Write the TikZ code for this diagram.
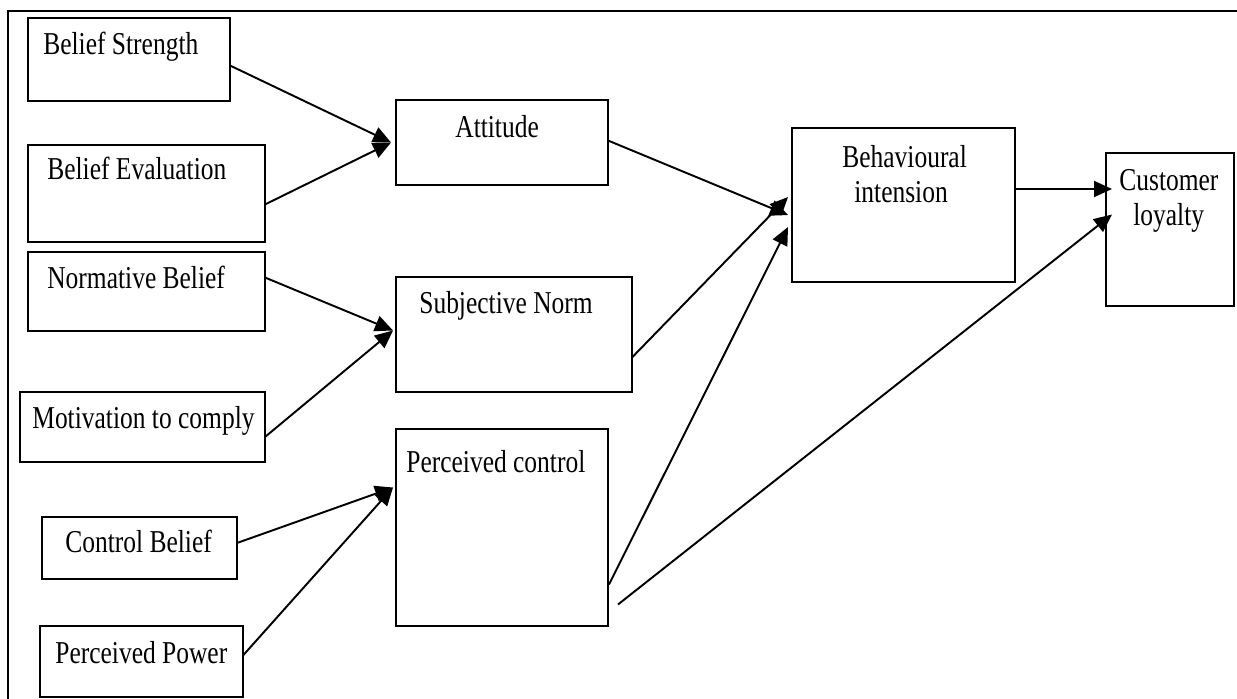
\documentclass[tikz,border=0pt]{standalone}
\usepackage{fontspec}
\setmainfont{Liberation Serif}
\usepackage{tikz}
\usetikzlibrary{calc}
\usetikzlibrary{arrows.meta}

\newcommand{\tallword}[1]{\scalebox{1}[1.25]{#1}}

\begin{document}
\begin{tikzpicture}[x=0.02cm, y=-0.02cm]
		\tikzstyle{box} = [rectangle, draw, line width=1.3pt, inner sep=0pt, outer sep=0pt]
		\tikzstyle{txt} = [anchor=base west, inner sep=0pt, font=\fontsize{14.5}{17}\selectfont]
		\tikzstyle{link} = [line width=1.1pt, -{Triangle[length=3.6mm, width=3.2mm]}]
		
		\useasboundingbox (0,0) rectangle (1237,699);
		\draw [line width=1.2pt] (8,699) -- (8,11) -- (1237,11);
		
		\node [box, minimum width=4.04cm, minimum height=1.66cm] (BS) at (129,59.5) {};
		\node [box, minimum width=4.74cm, minimum height=1.94cm] (BE) at (146.5,193.5) {};
		\node [box, minimum width=4.74cm, minimum height=1.58cm] (NB) at (146.5,291.5) {};
		\node [box, minimum width=4.9cm, minimum height=1.4cm] (MC) at (142.5,427) {};
		\node [box, minimum width=3.9cm, minimum height=1.24cm] (CB) at (139.5,548) {};
		\node [box, minimum width=4.06cm, minimum height=1.42cm] (PP) at (141.5,661.5) {};
		
		\node [box, minimum width=4.24cm, minimum height=1.7cm] (AT) at (502,142.5) {};
		\node [box, minimum width=4.72cm, minimum height=2.3cm] (SN) at (514,334.5) {};
		\node [box, minimum width=4.24cm, minimum height=3.94cm] (PC) at (502,527.5) {};
		
		\node [box, minimum width=4.46cm, minimum height=3.08cm] (BI) at (903.5,205) {};
		\node [box, minimum width=2.56cm, minimum height=3.06cm] (CL) at (1170,229.5) {};
		
		\node [txt] (BSt) at (43,55) {\tallword{Belief Strength}};
		\node [txt] (BEt) at (47,180) {\tallword{Belief Evaluation}};
		\node [txt] (NBt) at (47,288) {\tallword{Normative Belief}};
		\node [txt] (MCt) at (32,428) {\tallword{Motivation to comply}};
		\node [txt] (CBt) at (65,552) {\tallword{Control Belief}};
		\node [txt] (PPt) at (55,663) {\tallword{Perceived Power}};
		\node [txt] (ATt) at (455,138) {\tallword{Attitude}};
		\node [txt] (SNt) at (419,313) {\tallword{Subjective Norm}};
		\node [txt] (PCt) at (406,472) {\tallword{Perceived control}};
		\node [txt] (BIt1) at (842,168) {\tallword{Behavioural}};
		\node [txt] (BIt2) at (854,203) {\tallword{intension}};
		\node [txt] (CLt1) at (1119,191) {\tallword{Customer}};
		\node [txt] (CLt2) at (1133,226) {\tallword{loyalty}};
		
		\draw [link] ($(BS.east)+(0,6)$) to ($(AT.west)+(-5,0)$);
		\draw [link] ($(BE.east)+(0,11)$) to ($(AT.west)+(-5,0)$);
		\draw [link] ($(NB.east)+(0,-14)$) to ($(SN.west)+(-3,-4)$);
		\draw [link] ($(MC.east)+(0,10)$) to ($(SN.west)+(-3,-4)$);
		\draw [link] ($(CB.east)+(0,-5)$) to ($(PC.west)+(-3,-40)$);
		\draw [link] ($(PP.east)+(0,-6)$) to ($(PC.west)+(-3,-40)$);
		
		\draw [link] ($(AT.east)+(0,-2)$) to ($(BI.west)+(-4,10)$);
		\draw [link] ($(SN.east)+(0,23)$) to ($(BI.west)+(-4,-8)$);
		\draw [link] ($(PC.east)+(1,57)$) to ($(BI.west)+(-4,22)$);
		
		\draw [link] ($(BI.east)+(0,-16)$) to ($(CL.west)+(6,-40.5)$);
		\draw [link] ($(PC.east)+(10,77)$) to ($(CL.west)+(6,-15)$);
	\end{tikzpicture}
\end{document}
